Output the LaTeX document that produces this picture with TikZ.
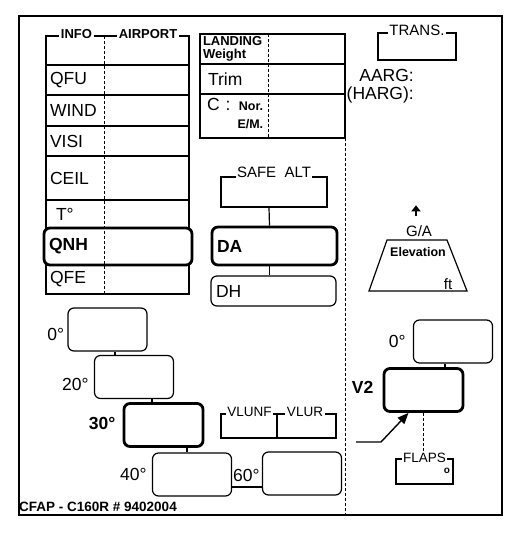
\documentclass[tikz,border=0pt]{standalone}
\usepackage{fontspec}
\setmainfont{Liberation Sans}
\usepackage{tikz}
\usetikzlibrary{positioning,arrows.meta}
\newcommand{\fsz}[1]{\fontsize{#1}{#1}\selectfont}

\begin{document}
\begin{tikzpicture}[
    x=1pt, y=-1pt,
    every node/.style={inner sep=0pt, font=\fsz{17.5}},
    row/.style={rectangle, draw, line width=1.2pt, minimum width=143pt, text width=135pt, inner xsep=4pt, align=left},
    cell/.style={rectangle, draw, line width=1.2pt, minimum width=145pt, text width=139pt, inner xsep=3pt, align=left},
    hilite/.style={rectangle, draw, rounded corners=6pt, line width=2.8pt, inner xsep=5pt, align=left, font=\bfseries\fsz{17.5}},
    slot/.style={rectangle, draw, rounded corners=6pt, line width=1.2pt, inner xsep=5pt, align=left},
    flapbox/.style={rectangle, draw, rounded corners=6pt, line width=1.2pt, minimum width=79pt, minimum height=43pt},
    bracket/.style={rectangle, draw, line width=1.2pt},
    tag/.style={font=\fsz{17.5}},
    btag/.style={font=\bfseries\fsz{17.5}},
    captext/.style={fill=white, inner sep=1.5pt, anchor=base, font=\fsz{13}},
    bcaptext/.style={captext, font=\bfseries\fsz{13}},
    divider/.style={line width=1pt, dash pattern=on 3pt off 2pt},
    link/.style={line width=1.2pt}
]
\useasboundingbox (0,0) rectangle (527,547);
\draw[line width=1.5pt] (19,16) rectangle (502,515);

\draw[link] (46,65) -- (46,36) -- (189,36) -- (189,65);
\node[bcaptext] (info) at (76.5,38) {INFO};
\node[bcaptext] (airport) at (148,38) {AIRPORT};
\node[row, minimum height=30pt] (qfu) at (117.5,80) {QFU};
\node[row, minimum height=31pt] (wind) at (117.5,110.5) {WIND};
\node[row, minimum height=30pt] (visi) at (117.5,141) {VISI};
\node[row, minimum height=44pt] (ceil) at (117.5,178) {CEIL};
\node[row, minimum height=28pt] (temp) at (117.5,214) {\hspace{6pt}T°};
\node[row, minimum height=29pt] (qfe) at (117.5,279.5) {QFE};
\node[hilite, text width=138pt, minimum height=37pt] (qnh) at (118,246.5) {QNH};
\draw[divider] (104,36) -- (104,294);

\node[cell, minimum height=30pt, font=\bfseries\fsz{13}] (weight) at (272.5,49) {LANDING\\Weight};
\node[cell, minimum height=30pt] (trim) at (272.5,79) {\hspace{5pt}Trim};
\node[cell, minimum height=44pt, inner xsep=7pt, text width=131pt] (cmode) at (272.5,116)
    {C\hspace{6pt}:\hspace{7pt}\begin{tabular}[t]{@{}r@{}}\bfseries\fsz{12.5}Nor.\\\bfseries\fsz{12.5}E/M.\end{tabular}};
\draw[divider] (268,34) -- (268,138);
\draw[divider] (345,138) -- (345,515);

\node[bracket, minimum width=78pt, minimum height=27pt] (trans) at (417,46.5) {};
\node[captext, font=\fsz{15}] (transcap) at ([yshift=-3pt]trans.north) {TRANS.};
\node[anchor=east, align=right] (arg) at (414,86) {AARG:\\(HARG):};

\node[bracket, minimum width=106pt, minimum height=30pt] (safe) at (274,192) {};
\node[captext, font=\fsz{15}] (safecap) at ([yshift=-1pt]safe.north) {SAFE\ \ ALT};
\node[hilite, text width=115pt, minimum height=38pt] (da) at (274.5,246) {DA};
\node[slot, text width=115pt, minimum height=30pt] (dh) at (273.5,291) {DH};
\draw[link] ([xshift=-5pt]safe.south) -- ([xshift=-5pt]da.north);
\draw[link] ([xshift=-5pt]da.south) -- ([xshift=-4pt]dh.north);

\node[font=\fsz{15}] (ga) at (419,231) {G/A};
\draw[line width=2pt, -{Triangle[length=6pt,width=9pt]}] ([xshift=-3pt]ga.north) ++(0,-9) -- ++(0,-11);
\draw[link] (369,291) -- (387,240) -- (447,240) -- (467,291) -- cycle;
\node[font=\bfseries\fsz{12.5}] (elev) at (418,252) {Elevation};
\node[font=\fsz{15}] (ft) at (448,284) {ft};

\node[flapbox] (f0) at (107.5,329.5) {};
\node[flapbox] (f20) at (134,377) {};
\node[flapbox, line width=2.8pt] (f30) at (163.5,425) {};
\node[flapbox] (f40) at (192,474.5) {};
\node[flapbox] (f60) at (302,473.5) {};
\node[tag, left=3pt of f0, yshift=-5pt] (t0) {0°};
\node[tag, left=5pt of f20, yshift=-7pt] (t20) {20°};
\node[btag, left=7pt of f30, yshift=2pt] (t30) {30°};
\node[tag, left=5pt of f40] (t40) {40°};
\node[tag, left=2pt of f60, yshift=-1.5pt] (t60) {60°};
\coordinate (c1) at ([xshift=7.5pt]f0.south);
\coordinate (c2) at ([xshift=18pt]f20.south);
\coordinate (c3) at ([xshift=23.5pt]f30.south);
\coordinate (c4) at ([yshift=-12.5pt]f40.east);
\draw[link] (c1) -- (c1 |- f20.north);
\draw[link] (c2) -- (c2 |- f30.north);
\draw[link] (c3) -- (c3 |- f40.north);
\draw[link] (c4) -- (c4 -| f60.west);

\node[bracket, minimum width=115pt, minimum height=24pt] (vl) at (278.5,426) {};
\node[captext, font=\fsz{13.5}] (vlunf) at ([xshift=-29pt, yshift=-3pt]vl.north) {VLUNF};
\node[captext, font=\fsz{13.5}] (vlur) at ([xshift=26.5pt, yshift=-3pt]vl.north) {VLUR};
\draw[link] ([xshift=-1.5pt]vl.north) -- ([xshift=-1.5pt]vl.south);

\node[flapbox] (r0) at (453,341.5) {};
\node[flapbox, line width=2.8pt] (v2) at (423.5,390) {};
\node[tag, left=7pt of r0] (tr0) {0°};
\node[btag, left=9pt of v2, yshift=3pt] (tv2) {V2};
\coordinate (c5) at ([xshift=-8pt]r0.south);
\draw[link] (c5) -- (c5 |- v2.north);
\coordinate (ptr) at (356,442);
\draw[line width=1.4pt, -{Triangle[length=11pt,width=9pt]}] (ptr) -- ++(25,0) -- ([xshift=-15pt]v2.south);

\node[bracket, minimum width=57pt, minimum height=25pt] (flaps) at (424.5,471.5) {};
\node[captext, font=\fsz{13.5}] (flapscap) at ([yshift=-4pt]flaps.north) {FLAPS};
\node[font=\bfseries\fsz{10}] (deg) at (447,471) {o};
\draw[divider] (v2.south) -- (v2.south |- flapscap.north);

\node[anchor=base west, font=\bfseries\fsz{13.5}] (code) at (19,511) {CFAP - C160R \# 9402004};
\end{tikzpicture}
\end{document}
